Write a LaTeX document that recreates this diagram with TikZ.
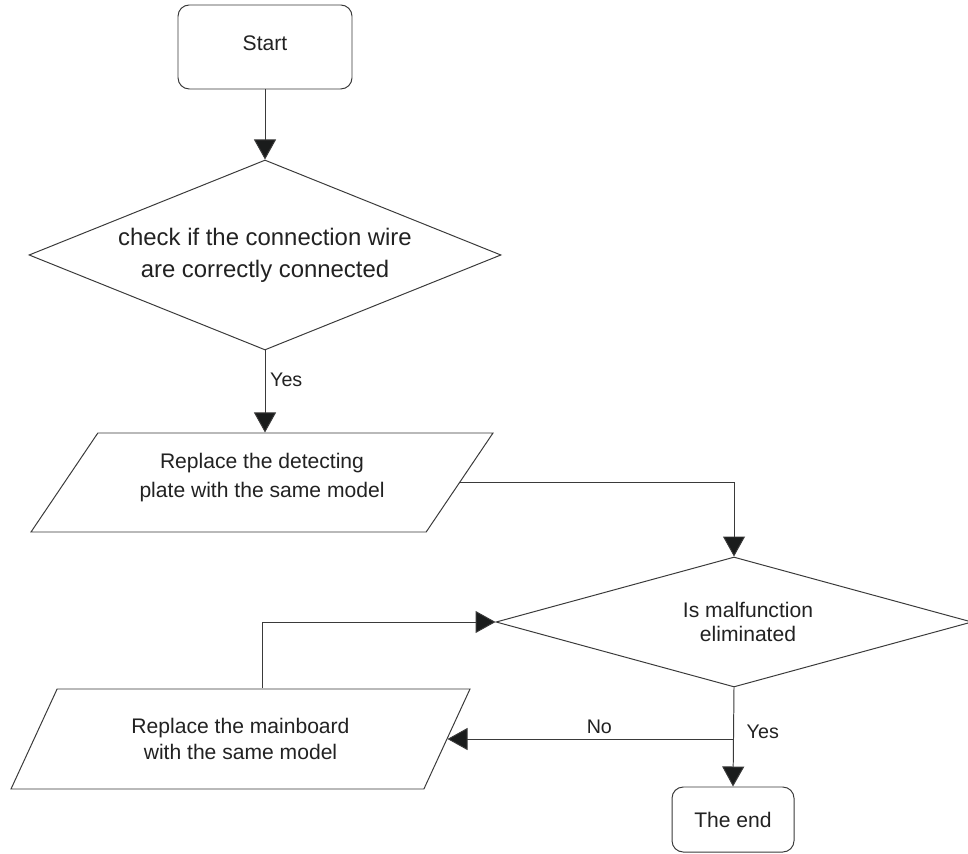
\documentclass[tikz,border=0pt]{standalone}
\usepackage{fontspec}
\setmainfont{Liberation Sans}
\usepackage{tikz}
\usetikzlibrary{arrows.meta,positioning,calc,shapes.geometric}
\definecolor{fline}{HTML}{3A3A3A}
\definecolor{fhead}{HTML}{1A1C1C}
\definecolor{ftext}{HTML}{222222}
\tikzset{
  % Flow-chart shapes: plain white fill, thin dark outline.
  term/.style  = {rectangle, rounded corners=8pt, draw=fline, fill=white, line width=0.7pt,
                  align=center, text=ftext, font=\fontsize{15}{18}\selectfont},
  cond/.style  = {diamond, draw=fline, fill=white, line width=0.7pt, inner sep=0pt,
                  align=center, text=ftext, font=\fontsize{15}{17}\selectfont},
  io/.style    = {trapezium, trapezium left angle=41.5, trapezium right angle=138.5,
                  trapezium stretches body, draw=fline, fill=white, line width=0.7pt,
                  inner sep=0pt, align=center, text=ftext, font=\fontsize{15}{18}\selectfont},
  lane/.style  = {-{Triangle[length=5mm,width=5.5mm,fill=fhead]}, line width=0.7pt, fline},
  tag/.style   = {font=\fontsize{14}{16}\selectfont, text=ftext},
}
\begin{document}
\begin{tikzpicture}
\useasboundingbox (0,0) rectangle (24.2,21.325);
\node[term, minimum width=4.35cm, minimum height=2.1cm] (start) at (6.625,20.15) {\raisebox{6pt}{Start}};
\node[cond, aspect=2.48, minimum width=11.8cm, minimum height=4.75cm, font=\fontsize{17}{22.8}\selectfont]
  (d1) at (6.625,14.95) {check if the connection wire\\are correctly connected};
\node[io, minimum width=11.55cm, minimum height=2.475cm, font=\fontsize{15}{20.6}\selectfont]
  (p1) at (6.55,9.2625) {Replace the detecting\\plate with the same model\\[-10pt]\mbox{}};
\node[cond, aspect=3.65, minimum width=11.9cm, minimum height=3.25cm] (d2) at (18.35,5.775)
  {\hspace*{7mm}Is malfunction\\\hspace*{7mm}eliminated};
\node[io, minimum width=11.475cm, minimum height=2.5cm] (p2) at (6.0125,2.85)
  {Replace the mainboard\\with the same model};
\node[term, minimum width=3.05cm, minimum height=1.625cm] (end) at (18.325,0.8375) {The end};
\coordinate (nobr) at (d2.south |- p2.east);
\draw[lane] (start) -- (d1);
\draw[lane] (d1.south) -- node[tag, right, pos=0.36] {Yes} (d1.south |- p1.north);
\draw[lane] (p1.east) -| (d2.north);
\draw[lane] (d2.south) -- node[tag, right=2mm, pos=0.45] {Yes} (end.north);
\draw[lane] (nobr) -- node[tag, above, pos=0.47] {No} (p2.east);
\draw[lane] (p2.north -| p1) |- (d2.west);
\end{tikzpicture}
\end{document}
